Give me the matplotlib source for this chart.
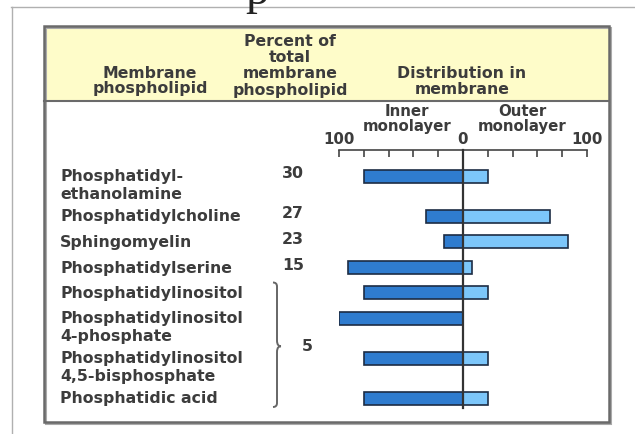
import matplotlib
matplotlib.use("Agg")
import matplotlib.pyplot as plt
from matplotlib.patches import Rectangle, PathPatch
from matplotlib.path import Path

# data
lipids = ["Phosphatidyl-\nethanolamine", "Phosphatidylcholine", "Sphingomyelin",
          "Phosphatidylserine", "Phosphatidylinositol",
          "Phosphatidylinositol\n4-phosphate", "Phosphatidylinositol\n4,5-bisphosphate",
          "Phosphatidic acid"]
percent_total = ["30", "27", "23", "15"]
group_percent = "5"
inner = [80, 30, 15, 93, 80, 100, 80, 80]
outer = [20, 70, 85, 7, 20, 0, 20, 20]

FONT = "DejaVu Sans"
TXT = "#3c3c3c"
DARK = "#2f7ccf"
LIGHT = "#7cc6fa"
EDGE = "#1c2c44"
FS = 11.3

fig = plt.figure(figsize=(6.35, 4.34), dpi=100)
bg = fig.add_axes([0, 0, 1, 1])
bg.set_xlim(0, 635)
bg.set_ylim(434, 0)
bg.axis("off")


def lines(x, y0, text, step, size=FS, ha="center"):
    # draw a multi-line text one line at a time with a fixed pixel step
    for i, ln in enumerate(text.split("\n")):
        bg.text(x, y0 + i * step, ln, family=FONT, weight="bold", fontsize=size,
                color=TXT, ha=ha, va="center")


# outer frame and cropped title letter
bg.plot([11, 635], [7, 7], color="#b0b0b0", lw=1)
bg.plot([12, 12], [7, 434], color="#b0b0b0", lw=1)
bg.text(257, 4, "p", family="Liberation Serif", fontsize=34, color="#222",
        ha="center", va="baseline")

# table box
bg.add_patch(Rectangle((44, 26), 565, 75, facecolor="#fefcc9", edgecolor="none"))
bg.add_patch(Rectangle((46, 28), 565, 396, facecolor="none", edgecolor="#aaaaaa", lw=1.5))
bg.add_patch(Rectangle((44, 26), 565, 396, facecolor="none", edgecolor="#6a6a6a", lw=1.8))
bg.plot([44, 609], [101, 101], color="#6a6a6a", lw=1.5)

lines(150, 73, "Membrane\nphospholipid", 16)
lines(290, 42, "Percent of\ntotal\nmembrane\nphospholipid", 16)
lines(462, 73, "Distribution in\nmembrane", 16)
lines(407, 112, "Inner\nmonolayer", 14, size=10.8)
lines(522, 112, "Outer\nmonolayer", 14, size=10.8)

# row positions: taller rows for two-line labels
rows = []
y = 176
for lab in lipids:
    rows.append(y)
    y += 25.5 + 14.5 * lab.count("\n")

for lab, y in zip(lipids, rows):
    lines(60, y + 1, lab, 17.5, ha="left")
for p, y in zip(percent_total, rows):
    lines(293, y - 2, p, 0)

# brace for the grouped lipids
top, bot = rows[4] - 10, rows[-1] + 9
mid = (rows[4] + rows[-1]) / 2 + 1
bx = 277
verts = [(bx - 4, top), (bx, top), (bx, top + 4), (bx, mid - 6),
         (bx, mid - 1), (bx + 2, mid), (bx + 4, mid),
         (bx + 2, mid), (bx, mid + 1), (bx, mid + 6),
         (bx, bot - 4), (bx, bot), (bx - 4, bot)]
codes = [Path.MOVETO, Path.CURVE3, Path.CURVE3, Path.LINETO,
         Path.CURVE4, Path.CURVE4, Path.CURVE4,
         Path.CURVE4, Path.CURVE4, Path.CURVE4,
         Path.LINETO, Path.CURVE3, Path.CURVE3]
bg.add_patch(PathPatch(Path(verts, codes), facecolor="none", edgecolor="#666", lw=1.4))
lines(bx + 30, mid, group_percent, 0)

# distribution bars
ax = fig.add_axes([339 / 635, 0, 248 / 635, 1])
ax.set_xlim(-100, 100)
ax.set_ylim(434, 0)
ax.patch.set_visible(False)
ax.barh(rows, [-v for v in inner], height=13, color=DARK, edgecolor=EDGE, lw=1.2, zorder=2)
ax.barh(rows, outer, height=13, color=LIGHT, edgecolor=EDGE, lw=1.2, zorder=2)
ax.plot([0, 0], [150, 408], color="#333", lw=1.6, zorder=3)

for s in ["left", "right", "bottom"]:
    ax.spines[s].set_visible(False)
ax.spines["top"].set_position(("data", 150))
ax.spines["top"].set_color("#444")
ax.spines["top"].set_linewidth(1.2)
ax.xaxis.tick_top()
ticks = list(range(-100, 101, 20))
ax.set_xticks(ticks)
ax.set_xticklabels([str(abs(v)) if v in (-100, 0, 100) else "" for v in ticks],
                   family=FONT, weight="bold", fontsize=10.8, color=TXT)
ax.tick_params(axis="x", direction="in", length=5, width=1.2, color="#444", pad=2)
ax.set_yticks([])

fig.savefig("out.png", dpi=100)
